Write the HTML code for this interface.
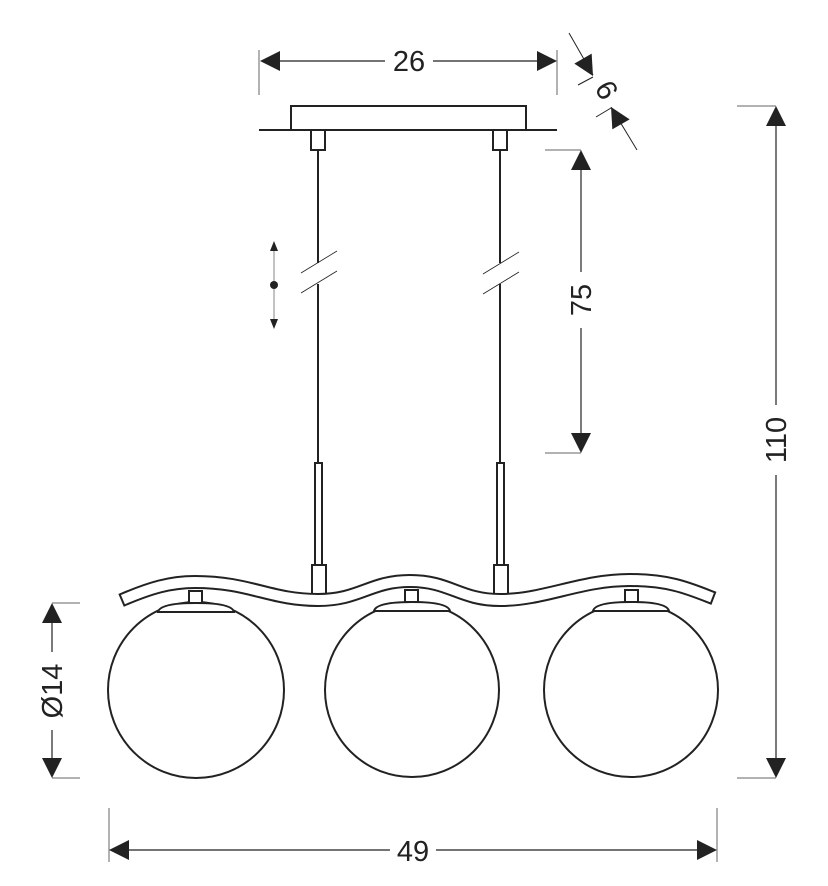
<!DOCTYPE html>
<html><head><style>html,body{margin:0;padding:0;background:#fff}svg{display:block}</style></head>
<body>
<svg width="828" height="886" viewBox="0 0 828 886" xmlns="http://www.w3.org/2000/svg" font-family="Liberation Sans, sans-serif">
<defs>
<path id="ah" d="M0,0 L20,-10 L20,10 Z" fill="#222"/>
</defs>
<g stroke="#222" fill="none">
<line x1="259" y1="50" x2="259" y2="95" stroke-width="1" stroke="#666"/>
<line x1="557" y1="50" x2="557" y2="95" stroke-width="1" stroke="#666"/>
<line x1="262" y1="61" x2="385" y2="61" stroke-width="1.2"/>
<line x1="433" y1="61" x2="554" y2="61" stroke-width="1.2"/>
<line x1="569" y1="33" x2="593" y2="75" stroke-width="1"/>
<line x1="578" y1="85" x2="593" y2="77" stroke-width="1"/>
<line x1="596" y1="117" x2="611" y2="108" stroke-width="1"/>
<line x1="611" y1="107" x2="637" y2="150" stroke-width="1"/>
<line x1="259" y1="130" x2="557" y2="130" stroke-width="2"/>
<rect x="291" y="106" width="235" height="24" stroke-width="2" fill="#fff"/>
<rect x="311" y="130" width="14" height="20" stroke-width="2"/>
<rect x="493" y="130" width="14" height="20" stroke-width="2"/>
<line x1="318" y1="150" x2="318" y2="263" stroke-width="2"/>
<line x1="318" y1="284" x2="318" y2="463" stroke-width="2"/>
<line x1="500" y1="150" x2="500" y2="263" stroke-width="2"/>
<line x1="500" y1="284" x2="500" y2="463" stroke-width="2"/>
<line x1="301" y1="273" x2="337" y2="251" stroke-width="0.8"/>
<line x1="301" y1="293" x2="337" y2="271" stroke-width="0.8"/>
<line x1="483" y1="274" x2="519" y2="252" stroke-width="0.8"/>
<line x1="483" y1="294" x2="519" y2="272" stroke-width="0.8"/>
<line x1="274" y1="248" x2="274" y2="322" stroke="#999" stroke-width="1.2"/>
<rect x="315" y="463" width="7" height="102" stroke-width="2"/>
<rect x="497" y="463" width="7" height="102" stroke-width="2"/>
<rect x="312" y="565" width="14" height="31" stroke-width="2" fill="#fff"/>
<rect x="494" y="565" width="14" height="31" stroke-width="2" fill="#fff"/>
<path d="M122,600 C150,588 170,582 195,582 C250,582 270,600 318,600 C360,600 370,581 410,581 C450,581 460,600 500,600 C545,600 580,580 630,580 C670,580 690,589 713,598" stroke="#222" stroke-width="14" stroke-linecap="butt"/>
<path d="M122,600 C150,588 170,582 195,582 C250,582 270,600 318,600 C360,600 370,581 410,581 C450,581 460,600 500,600 C545,600 580,580 630,580 C670,580 690,589 713,598" stroke="#fff" stroke-width="10" stroke-linecap="butt"/>
<line x1="119.3" y1="593.6" x2="124.7" y2="606.4" stroke-width="2"/>
<line x1="715.5" y1="591.5" x2="710.5" y2="604.5" stroke-width="2"/>
<g stroke-width="2">
<circle cx="196" cy="690" r="88" fill="#fff"/>
<circle cx="412" cy="690" r="87" fill="#fff"/>
<circle cx="631" cy="690" r="87" fill="#fff"/>
<rect x="189" y="591" width="13" height="12" fill="#fff"/>
<rect x="405" y="590" width="13" height="12" fill="#fff"/>
<rect x="625" y="590" width="13" height="12" fill="#fff"/>
<path d="M158,612 Q160,603 196,603 Q232,603 234,612 Z" fill="#fff"/>
<path d="M374,611 Q376,602 412,602 Q448,602 450,611 Z" fill="#fff"/>
<path d="M593,611 Q595,602 631,602 Q667,602 669,611 Z" fill="#fff"/>
</g>
<line x1="545" y1="150" x2="581" y2="150" stroke-width="1" stroke="#666"/>
<line x1="545" y1="453" x2="581" y2="453" stroke-width="1" stroke="#666"/>
<line x1="581" y1="165" x2="581" y2="272" stroke-width="1.2"/>
<line x1="581" y1="328" x2="581" y2="438" stroke-width="1.2"/>
<line x1="737" y1="106" x2="776" y2="106" stroke-width="1" stroke="#666"/>
<line x1="737" y1="778" x2="776" y2="778" stroke-width="1" stroke="#666"/>
<line x1="776" y1="120" x2="776" y2="405" stroke-width="1.2"/>
<line x1="776" y1="475" x2="776" y2="765" stroke-width="1.2"/>
<line x1="52" y1="603" x2="80" y2="603" stroke-width="1" stroke="#666"/>
<line x1="52" y1="778" x2="80" y2="778" stroke-width="1" stroke="#666"/>
<line x1="52" y1="620" x2="52" y2="652" stroke-width="1.2"/>
<line x1="52" y1="730" x2="52" y2="762" stroke-width="1.2"/>
<line x1="109" y1="808" x2="109" y2="862" stroke-width="1" stroke="#666"/>
<line x1="717" y1="808" x2="717" y2="862" stroke-width="1" stroke="#666"/>
<line x1="125" y1="850" x2="390" y2="850" stroke-width="1.2"/>
<line x1="436" y1="850" x2="701" y2="850" stroke-width="1.2"/>
</g>
<use href="#ah" transform="translate(260,61)"/>
<use href="#ah" transform="translate(557,61) rotate(180)"/>
<use href="#ah" transform="translate(581,150) rotate(90)"/>
<use href="#ah" transform="translate(581,453) rotate(-90)"/>
<use href="#ah" transform="translate(776,106) rotate(90)"/>
<use href="#ah" transform="translate(776,778) rotate(-90)"/>
<use href="#ah" transform="translate(52,603) rotate(90)"/>
<use href="#ah" transform="translate(52,778) rotate(-90)"/>
<use href="#ah" transform="translate(109,850)"/>
<use href="#ah" transform="translate(717,850) rotate(180)"/>
<use href="#ah" transform="translate(593,76) rotate(240)"/>
<use href="#ah" transform="translate(611,107) rotate(60)"/>
<path d="M274,241 L270,251 L278,251 Z M274,329 L270,319 L278,319 Z" fill="#222"/>
<circle cx="274" cy="285" r="4" fill="#222"/>
<g fill="#222" font-size="29" text-anchor="middle">
<text x="409" y="71">26</text>
<text x="413" y="861">49</text>
<text transform="translate(591,300) rotate(-90)">75</text>
<text transform="translate(786,440) rotate(-90)">110</text>
<text transform="translate(62,691) rotate(-90)">Ø14</text>
<text transform="translate(598,95) rotate(60)">6</text>
</g>
</svg>
</body></html>
